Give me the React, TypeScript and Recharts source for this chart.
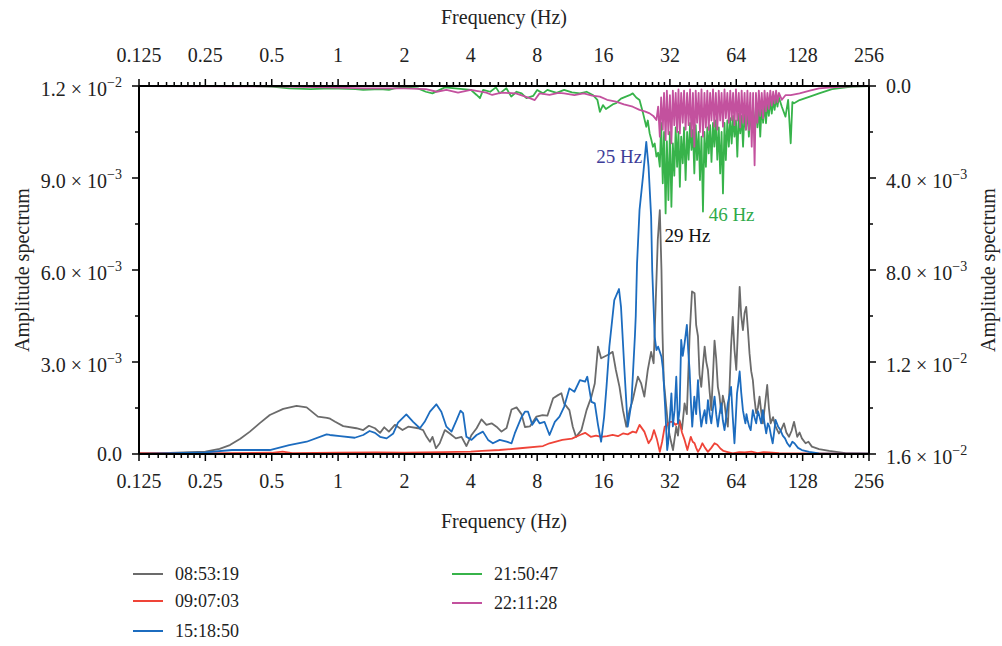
import { LineChart, Line, XAxis, YAxis, ReferenceDot } from "recharts";

const FONT = "'Liberation Serif', 'Times New Roman', serif";

type Pt = [number, number];

// [frequency Hz, amplitude ×10⁻³]
const GRAY: Pt[] = [
  [0.125, 0.02], [0.16, 0.03], [0.2, 0.05], [0.25, 0.08], [0.29, 0.17], [0.323, 0.29], [0.36, 0.5], [0.398, 0.73],
  [0.44, 1.0], [0.49, 1.27], [0.564, 1.47], [0.648, 1.57], [0.72, 1.52], [0.81, 1.22], [0.89, 1.18], [0.92, 1.15],
  [0.97, 1.05], [1.055, 0.91], [1.21, 0.84], [1.3, 0.78], [1.38, 0.92], [1.47, 0.84], [1.55, 0.69], [1.62, 0.87],
  [1.7, 0.73], [1.81, 0.95], [1.96, 0.78], [2.08, 0.89], [2.31, 0.84], [2.43, 0.78], [2.52, 0.56], [2.61, 0.4],
  [2.68, 0.56], [2.78, 0.19], [2.89, 0.35], [3.05, 0.78], [3.21, 0.67], [3.42, 0.51], [3.63, 0.56], [3.82, 0.26],
  [4.03, 0.62], [4.25, 0.84], [4.47, 1.13], [4.71, 0.95], [4.97, 1.0], [5.23, 0.89], [5.51, 0.73], [5.81, 0.85],
  [6.12, 1.45], [6.45, 1.52], [6.79, 1.3], [7.04, 0.88], [7.41, 0.9], [7.94, 1.22], [8.46, 1.27], [8.9, 1.25],
  [9.45, 1.82], [9.95, 1.92], [10.3, 1.98], [10.6, 1.65], [11.2, 1.43], [11.6, 0.89], [12.0, 0.56], [12.7, 0.78],
  [13.4, 1.43], [14.1, 1.87], [14.6, 2.3], [15.1, 3.5], [15.6, 3.12], [16.1, 3.17], [16.7, 3.23], [17.6, 3.33],
  [18.2, 2.74], [18.9, 2.19], [19.6, 1.43], [20.3, 0.89], [21.0, 1.43], [21.7, 1.76], [22.9, 2.52], [23.7, 2.3],
  [24.5, 1.87], [25.4, 2.74], [26.3, 3.33], [27.0, 2.96], [27.6, 5.0], [28.2, 7.0], [28.8, 7.95], [29.3, 6.0],
  [29.6, 4.0], [30.0, 2.4], [30.9, 1.43], [31.4, 0.9], [32.0, 0.56], [33.05, 0.13], [34.2, 0.89], [34.8, 0.6],
  [35.4, 1.1], [36.3, 0.8], [37.3, 1.65], [38.2, 1.3], [39.3, 3.84], [40.3, 5.3], [41.4, 5.24], [42.1, 4.2],
  [42.9, 3.84], [43.6, 2.6], [44.4, 2.19], [45.2, 2.9], [46.0, 3.5], [46.8, 3.0], [47.6, 2.74], [48.5, 2.0],
  [49.3, 1.43], [50.2, 2.6], [51.0, 3.7], [51.9, 3.1], [52.8, 2.19], [53.7, 1.9], [54.7, 1.33], [55.6, 1.9],
  [56.6, 1.65], [57.6, 1.2], [58.6, 0.89], [59.6, 2.1], [60.6, 3.5], [61.7, 4.47], [62.8, 3.4], [64.0, 2.74],
  [65.1, 4.0], [66.3, 5.45], [67.4, 4.5], [68.6, 4.04], [69.8, 4.6], [71.0, 4.8], [72.2, 4.1], [73.5, 3.28],
  [74.8, 2.7], [76.1, 2.41], [77.4, 1.8], [78.8, 1.33], [80.2, 1.5], [81.6, 1.87], [83.0, 1.4], [84.5, 1.0],
  [86.4, 1.6], [88.4, 2.25], [90.0, 1.5], [91.6, 1.0], [94.0, 1.2], [96.5, 0.89], [99.9, 0.67], [102.5, 0.8],
  [105.3, 1.0], [108, 0.7], [111, 0.56], [114, 0.75], [117, 1.05], [121, 0.56], [124, 0.7], [127, 0.51],
  [132, 0.35], [136, 0.4], [141, 0.24], [152, 0.16], [169, 0.1], [200, 0.03], [256, 0.01],
];

const RED: Pt[] = [
  [0.125, 0.03], [0.3, 0.03], [0.5, 0.04], [0.56, 0.08], [0.62, 0.03], [1.0, 0.04], [1.5, 0.05], [2.0, 0.04],
  [3.0, 0.06], [4.0, 0.08], [4.5, 0.1], [5.4, 0.13], [6.5, 0.18], [8.5, 0.26], [9.1, 0.35], [10.4, 0.46],
  [11.5, 0.5], [12.5, 0.62], [13.2, 0.69], [14.0, 0.56], [14.8, 0.6], [15.6, 0.56], [16.6, 0.58], [17.6, 0.62],
  [18.6, 0.58], [19.6, 0.67], [20.6, 0.64], [21.7, 0.73], [22.5, 0.7], [23.3, 0.95], [24.5, 0.73], [25.6, 0.35],
  [26.4, 0.5], [27.1, 0.78], [27.9, 0.5], [28.8, 0.07], [29.5, 0.4], [30.3, 0.89], [31.1, 0.95], [32.0, 1.05],
  [33.0, 1.05], [33.9, 0.95], [34.8, 1.0], [35.4, 1.05], [36.3, 0.7], [37.3, 0.46], [38.4, 0.13], [39.8, 0.56],
  [40.6, 0.4], [41.4, 0.35], [42.1, 0.2], [42.9, 0.07], [44.0, 0.2], [44.9, 0.35], [46.2, 0.2], [47.6, 0.07],
  [49.3, 0.2], [51.0, 0.35], [52.5, 0.3], [54.2, 0.18], [56, 0.1], [58, 0.07], [61.7, 0.02], [66, 0.06],
  [70, 0.05], [75, 0.08], [80, 0.03], [85, 0.06], [90, 0.05], [100, 0.03], [110, 0.02], [130, 0.02],
  [256, 0.01],
];

const BLUE: Pt[] = [
  [0.125, 0.0], [0.25, 0.05], [0.33, 0.13], [0.49, 0.13], [0.6, 0.29], [0.72, 0.4], [0.887, 0.64], [0.918, 0.62],
  [1.02, 0.58], [1.19, 0.53], [1.3, 0.62], [1.39, 0.75], [1.47, 0.69], [1.55, 0.56], [1.66, 0.51], [1.78, 0.67],
  [1.87, 1.02], [2.04, 1.29], [2.19, 1.05], [2.35, 0.84], [2.47, 1.05], [2.61, 1.38], [2.79, 1.62], [2.94, 1.38],
  [3.1, 0.89], [3.27, 0.73], [3.45, 1.11], [3.59, 1.41], [3.69, 1.33], [3.82, 0.56], [4.03, 0.46], [4.25, 0.62],
  [4.54, 0.73], [4.79, 0.46], [5.04, 0.35], [5.41, 0.46], [5.81, 0.4], [6.12, 0.35], [6.33, 0.67], [6.79, 1.2],
  [7.04, 1.38], [7.27, 1.38], [7.41, 1.2], [7.6, 0.95], [7.94, 1.16], [8.2, 1.0], [8.63, 1.05], [9.1, 0.62],
  [9.62, 1.05], [10.1, 1.22], [10.6, 1.54], [11.2, 2.14], [11.8, 2.03], [12.5, 2.41], [13.2, 2.36], [13.5, 2.52],
  [14.1, 1.7], [14.6, 1.65], [15.1, 0.95], [15.6, 0.4], [16.1, 1.22], [16.5, 2.19], [17.0, 3.5], [17.9, 5.02],
  [18.8, 5.38], [19.2, 4.8], [19.9, 2.74], [20.6, 0.89], [21.4, 1.65], [22.2, 3.84], [22.4, 4.5], [22.7, 6.2],
  [23.3, 7.96], [24.2, 9.1], [25.0, 10.18], [25.6, 9.37], [26.3, 7.74], [26.6, 6.0], [27.3, 3.82], [27.8, 3.39],
  [28.3, 3.5], [29.3, 3.17], [29.8, 2.74], [30.5, 1.43], [31.1, 0.13], [31.4, 0.35], [32.0, 1.2], [32.5, 1.98],
  [33.0, 0.9], [33.6, 1.43], [34.2, 2.52], [34.8, 1.0], [35.4, 1.43], [36.0, 3.72], [36.6, 3.2], [37.3, 3.61],
  [38.2, 4.21], [38.8, 3.3], [39.3, 2.74], [39.9, 1.6], [40.4, 0.89], [41.3, 1.87], [42.1, 1.3], [42.9, 2.41],
  [43.6, 1.5], [44.4, 0.89], [45.2, 1.2], [46.0, 1.43], [46.8, 1.0], [47.6, 1.76], [48.5, 1.3], [49.3, 1.0],
  [50.2, 1.5], [51.0, 1.87], [51.9, 1.3], [52.8, 0.89], [53.7, 1.3], [54.7, 1.65], [55.6, 1.1], [56.6, 0.78],
  [57.6, 1.2], [58.6, 1.65], [59.6, 1.9], [60.6, 2.19], [61.7, 1.2], [62.8, 0.35], [63.6, 1.1], [64.5, 1.98],
  [65.4, 2.3], [66.3, 2.69], [67.4, 2.0], [68.6, 1.43], [69.5, 1.2], [70.4, 1.0], [71.2, 1.3], [72.0, 1.11],
  [73.2, 0.9], [74.4, 0.78], [75.2, 1.1], [76.1, 1.43], [77.4, 1.2], [78.8, 1.0], [80.2, 1.4], [81.6, 1.22],
  [83.0, 1.0], [84.5, 1.43], [86.0, 1.0], [87.5, 0.67], [89.0, 1.0], [90.4, 0.89], [92.0, 0.6], [93.6, 0.35],
  [95.0, 0.7], [96.5, 1.11], [99.0, 0.9], [101.5, 0.78], [104, 0.6], [106.5, 0.51], [109, 0.35], [112, 0.24],
  [115, 0.4], [117.5, 0.35], [122, 0.2], [127, 0.13], [137, 0.07], [152, 0.02], [256, 0.01],
];

// right axis (inverted), amplitude ×10⁻³
const GREEN: Pt[] = [
  [0.125, 0.0], [0.4, 0.0], [0.5, 0.03], [0.6, 0.1], [0.75, 0.14], [0.92, 0.1], [1.2, 0.14], [1.3, 0.17],
  [1.55, 0.14], [1.7, 0.17], [1.8, 0.1], [1.99, 0.06], [2.3, 0.1], [2.5, 0.25], [2.68, 0.32], [2.89, 0.17],
  [3.05, 0.06], [3.4, 0.1], [4.0, 0.17], [4.25, 0.39], [4.4, 0.53], [4.55, 0.17], [4.9, 0.25], [5.2, 0.06],
  [5.41, 0.32], [5.8, 0.1], [6.1, 0.46], [6.45, 0.25], [6.8, 0.32], [7.15, 0.53], [7.67, 0.43], [8.0, 0.17],
  [8.5, 0.32], [8.9, 0.17], [9.1, 0.2], [9.8, 0.3], [10.6, 0.17], [11.5, 0.28], [12.5, 0.32], [13.4, 0.25],
  [14.3, 0.39], [15.0, 0.6], [15.4, 1.12], [15.9, 0.83], [16.4, 1.0], [17.0, 0.9], [17.6, 0.8], [18.2, 0.75],
  [19.2, 0.55], [20.2, 0.46], [21.0, 0.4], [21.7, 0.32], [22.5, 0.5], [23.3, 0.61], [24.2, 1.2], [25.0, 1.77],
  [25.4, 1.5], [25.9, 2.06], [26.3, 2.3], [26.8, 2.64], [27.3, 2.5], [27.8, 3.07], [28.3, 2.9], [28.8, 3.51],
  [29.2, 1.6], [29.7, 4.23], [30.1, 2.0], [30.6, 5.54], [31.0, 2.4], [31.5, 4.96], [32.0, 2.0], [32.5, 5.25],
  [33.0, 2.5], [33.5, 3.9], [34.0, 1.8], [34.5, 3.51], [35.0, 2.0], [35.5, 4.38], [36.0, 2.2], [36.6, 3.36],
  [37.1, 1.8], [37.7, 4.09], [38.3, 2.0], [38.9, 3.2], [39.5, 1.6], [40.1, 2.78], [40.7, 1.9], [41.3, 3.8],
  [41.9, 1.7], [42.5, 3.22], [43.2, 2.0], [43.8, 4.09], [44.5, 2.2], [45.2, 5.46], [45.9, 2.0], [46.6, 3.51],
  [47.3, 1.8], [48.0, 2.93], [48.7, 1.7], [49.4, 3.3], [50.2, 1.6], [50.9, 2.64], [51.7, 1.5], [52.5, 3.2],
  [53.3, 1.8], [54.1, 3.8], [54.9, 2.0], [55.7, 4.67], [56.6, 1.6], [57.4, 3.22], [58.3, 1.5], [59.2, 2.64],
  [60.1, 1.4], [61.0, 2.5], [61.9, 1.3], [62.8, 2.2], [63.8, 1.5], [64.7, 3.07], [65.7, 1.2], [66.7, 2.06],
  [67.7, 1.3], [68.7, 2.64], [69.8, 1.1], [70.8, 1.9], [71.9, 1.0], [73.0, 2.2], [74.1, 1.1], [75.2, 1.91],
  [76.3, 0.9], [77.5, 2.0], [78.6, 1.0], [79.8, 1.8], [81.0, 0.9], [82.2, 2.2], [83.5, 0.8], [84.7, 1.6],
  [86.0, 0.8], [87.3, 1.62], [88.6, 0.7], [89.9, 1.3], [91.3, 0.6], [92.7, 1.2], [94.1, 0.6], [95.5, 1.04],
  [97.0, 0.5], [98.4, 0.9], [99.9, 0.5], [103, 0.9], [107, 1.33], [110, 0.6], [113, 2.49], [115, 0.7],
  [117, 0.75], [124, 0.61], [138, 0.46], [152, 0.32], [174, 0.14], [214, 0.03], [256, 0.0],
];

const MAGENTA: Pt[] = [
  [0.125, 0.0], [0.5, 0.02], [0.9, 0.06], [1.3, 0.1], [2.0, 0.1], [2.5, 0.14], [2.8, 0.25], [3.1, 0.17],
  [3.5, 0.29], [4.0, 0.17], [4.7, 0.29], [5.0, 0.39], [5.5, 0.29], [6.4, 0.32], [7.4, 0.53], [7.8, 0.61],
  [8.2, 0.32], [9.1, 0.39], [10.0, 0.3], [10.6, 0.32], [11.8, 0.4], [13.0, 0.32], [14.2, 0.42], [15.4, 0.46],
  [16.6, 0.6], [18.2, 0.68], [19.8, 0.8], [21.7, 0.9], [23.3, 1.04], [24.6, 1.1], [25.9, 1.19], [26.9, 1.3],
  [27.8, 1.48], [28.3, 0.9], [28.8, 2.2], [29.2, 0.5], [29.7, 1.9], [30.1, 0.3], [30.6, 2.35], [31.0, 0.2],
  [31.5, 2.1], [32.0, 0.4], [32.5, 2.49], [33.0, 0.2], [33.5, 1.7], [34.0, 0.3], [34.5, 2.0], [35.0, 0.15],
  [35.5, 2.06], [36.0, 0.3], [36.6, 1.6], [37.1, 0.2], [37.7, 1.9], [38.3, 0.3], [38.9, 1.7], [39.5, 0.15],
  [40.1, 2.2], [40.7, 0.3], [41.3, 2.64], [41.9, 0.2], [42.5, 1.6], [43.2, 0.3], [43.8, 2.0], [44.5, 0.15],
  [45.2, 2.2], [45.9, 0.3], [46.6, 1.8], [47.3, 0.2], [48.0, 1.91], [48.7, 0.3], [49.4, 1.5], [50.2, 0.15],
  [50.9, 1.77], [51.7, 0.3], [52.5, 1.9], [53.3, 0.2], [54.1, 1.5], [54.9, 0.3], [55.7, 1.77], [56.6, 0.15],
  [57.4, 1.4], [58.3, 0.3], [59.2, 1.6], [60.1, 0.2], [61.0, 1.48], [61.9, 0.3], [62.8, 1.7], [63.8, 0.15],
  [64.7, 1.5], [65.7, 0.3], [66.7, 1.8], [67.7, 0.2], [68.7, 1.6], [69.8, 0.3], [70.8, 1.9], [71.9, 0.2],
  [73.0, 1.91], [74.1, 0.3], [75.2, 2.64], [76.3, 0.3], [77.5, 3.45], [78.6, 0.3], [79.8, 1.6], [81.0, 0.2],
  [82.2, 1.3], [83.5, 0.3], [84.7, 1.4], [86.0, 0.2], [87.3, 1.1], [88.6, 0.3], [89.9, 1.0], [91.3, 0.2],
  [92.7, 0.85], [94.1, 0.25], [95.5, 0.75], [97.0, 0.2], [98.4, 0.7], [99.9, 0.3], [103, 0.6], [107, 0.4],
  [113, 0.4], [124, 0.32], [138, 0.2], [152, 0.1], [180, 0.05], [210, 0.02], [256, 0.0],
];

const SERIES = [
  { name: "08:53:19", color: "#6b6b6b", pts: GRAY, axis: "left" },
  { name: "09:07:03", color: "#ef4438", pts: RED, axis: "left" },
  { name: "15:18:50", color: "#1c6cbf", pts: BLUE, axis: "left" },
  { name: "21:50:47", color: "#37b34a", pts: GREEN, axis: "right" },
  { name: "22:11:28", color: "#c3519e", pts: MAGENTA, axis: "right" },
];

const NOTES = [
  { text: "25 Hz", f: 25, v: 9.7, axis: "left", color: "#3d3d99", pos: "left" },
  { text: "29 Hz", f: 29, v: 7.14, axis: "left", color: "#111111", pos: "right" },
  { text: "46 Hz", f: 46, v: 5.57, axis: "right", color: "#2eaa4a", pos: "right" },
];

const X_MAJOR = [0.125, 0.25, 0.5, 1, 2, 4, 8, 16, 32, 64, 128, 256];
const X_TICKS = [
  ...X_MAJOR,
  ...X_MAJOR.slice(0, -1).flatMap((b) => [1, 2, 3, 4, 5, 6, 7, 8].map((k) => b * (1 + k / 9))),
].sort((a, b) => a - b);
const LEFT_TICKS = [0, 1.5, 3, 4.5, 6, 7.5, 9, 10.5, 12];
const RIGHT_TICKS = [0, 2, 4, 6, 8, 10, 12, 14, 16];

function sci(v: number) {
  if (v === 0) return { m: "0.0", e: null as string | null };
  const val = v * 1e-3;
  const e = Math.floor(Math.log10(val) + 1e-9);
  return { m: (val / 10 ** e).toFixed(1), e: String(e).replace("-", "\u2212") };
}

function XTick(props: any) {
  const { x, y, payload, side } = props;
  const major = X_MAJOR.includes(payload.value);
  const dir = side === "top" ? -1 : 1;
  return (
    <g>
      <line x1={x} x2={x} y1={y} y2={y + dir * (major ? 7 : 4)} stroke="#000" strokeWidth={1.5} />
      {major && (
        <text x={x} y={side === "top" ? y - 24 : y + 34} textAnchor="middle" fontFamily={FONT} fontSize={20} fill="#222">
          {String(payload.value)}
        </text>
      )}
    </g>
  );
}

function YTick(props: any) {
  const { x, y, payload, side } = props;
  const v = payload.value;
  const major = side === "left" ? v % 3 === 0 : v % 4 === 0;
  const dir = side === "left" ? -1 : 1;
  const { m, e } = sci(v);
  return (
    <g>
      <line x1={x} x2={x + dir * (major ? 7 : 4)} y1={y} y2={y} stroke="#000" strokeWidth={1.5} />
      {major && (
        <text
          x={x + dir * 17}
          y={y + (e ? 10 : 7)}
          textAnchor={side === "left" ? "end" : "start"}
          fontFamily={FONT}
          fontSize={20}
          fill="#222"
        >
          {m}
          {e && (
            <>
              {" \u00d7 10"}
              <tspan dy={-9} fontSize={14}>{e}</tspan>
            </>
          )}
        </text>
      )}
    </g>
  );
}

const axisLine = { stroke: "#000", strokeWidth: 2 };

export default function App() {
  return (
    <div style={{ position: "absolute", left: 0, top: 0, width: 1002, height: 646, background: "#fff", fontFamily: FONT, color: "#222" }}>
      <LineChart width={1002} height={646} margin={{ top: 46, right: 73, bottom: 152, left: 79 }}>
        <XAxis
          xAxisId="bottom" dataKey="f" type="number" scale="log" domain={[0.125, 256]} allowDataOverflow
          ticks={X_TICKS} interval={0} tickSize={0} tickMargin={0} tickLine={false} axisLine={axisLine} height={40}
          tick={(p: any) => <XTick {...p} side="bottom" />}
        />
        <XAxis
          xAxisId="top" orientation="top" dataKey="f" type="number" scale="log" domain={[0.125, 256]} allowDataOverflow
          ticks={X_TICKS} interval={0} tickSize={0} tickMargin={0} tickLine={false} axisLine={axisLine} height={40}
          tick={(p: any) => <XTick {...p} side="top" />}
        />
        <YAxis
          yAxisId="left" type="number" domain={[0, 12]} allowDataOverflow ticks={LEFT_TICKS} interval={0}
          tickSize={0} tickMargin={0} tickLine={false} axisLine={axisLine} width={60}
          tick={(p: any) => <YTick {...p} side="left" />}
        />
        <YAxis
          yAxisId="right" orientation="right" reversed type="number" domain={[0, 16]} allowDataOverflow
          ticks={RIGHT_TICKS} interval={0} tickSize={0} tickMargin={0} tickLine={false} axisLine={axisLine} width={60}
          tick={(p: any) => <YTick {...p} side="right" />}
        />
        <Line
          xAxisId="top" yAxisId="left" data={GRAY.map(([f, v]) => ({ f, v }))} dataKey="v"
          stroke="none" dot={false} activeDot={false} isAnimationActive={false} legendType="none"
        />
        {SERIES.map((s) => (
          <Line
            key={s.name}
            name={s.name}
            xAxisId="bottom"
            yAxisId={s.axis}
            data={s.pts.map(([f, v]) => ({ f, v }))}
            dataKey="v"
            type="linear"
            stroke={s.color}
            strokeWidth={1.8}
            strokeLinejoin="round"
            dot={false}
            activeDot={false}
            isAnimationActive={false}
          />
        ))}
        {NOTES.map((n) => (
          <ReferenceDot
            key={n.text}
            xAxisId="bottom"
            yAxisId={n.axis}
            x={n.f}
            y={n.v}
            r={1}
            fill="none"
            stroke="none"
            label={{ value: n.text, position: n.pos as any, offset: 3, fill: n.color, fontSize: 19, fontFamily: FONT }}
          />
        ))}
      </LineChart>

      <div style={{ position: "absolute", left: 504, top: 17, transform: "translate(-50%, -50%)", fontSize: 20, whiteSpace: "nowrap", lineHeight: 1 }}>
        Frequency (Hz)
      </div>
      <div style={{ position: "absolute", left: 504, top: 521, transform: "translate(-50%, -50%)", fontSize: 20, whiteSpace: "nowrap", lineHeight: 1 }}>
        Frequency (Hz)
      </div>
      <div style={{ position: "absolute", left: 22, top: 270, transform: "translate(-50%, -50%) rotate(-90deg)", fontSize: 20, whiteSpace: "nowrap", lineHeight: 1 }}>
        Amplitude spectrum
      </div>
      <div style={{ position: "absolute", left: 988, top: 270, transform: "translate(-50%, -50%) rotate(-90deg)", fontSize: 20, whiteSpace: "nowrap", lineHeight: 1 }}>
        Amplitude spectrum
      </div>

      {SERIES.map((s, i) => {
        const col = i < 3 ? 0 : 1;
        const top = col === 0 ? [574, 601, 631][i] : [574, 603][i - 3];
        const left = col === 0 ? 133 : 452;
        return (
          <div key={s.name} style={{ position: "absolute", left, top, transform: "translateY(-50%)", display: "flex", alignItems: "center", fontSize: 18, lineHeight: 1, whiteSpace: "nowrap" }}>
            <span style={{ display: "inline-block", width: 30, height: 2, background: s.color, marginRight: 12 }} />
            {s.name}
          </div>
        );
      })}
    </div>
  );
}
